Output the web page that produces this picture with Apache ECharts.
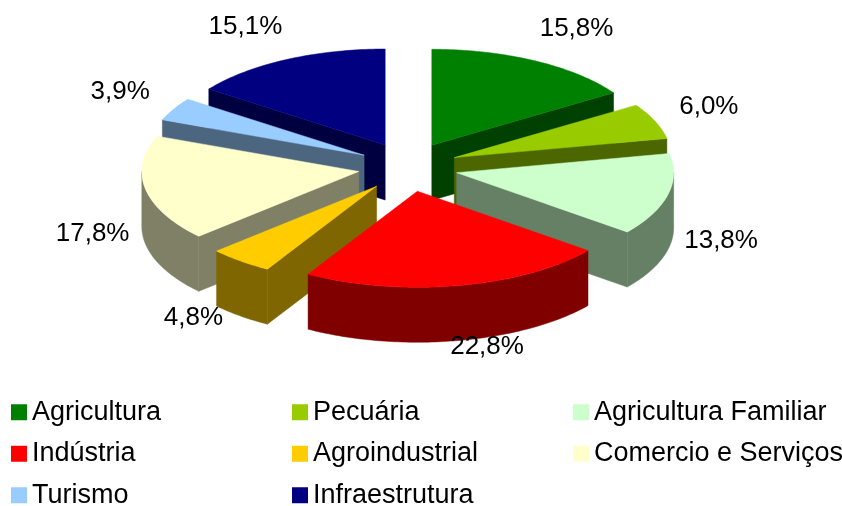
<!DOCTYPE html>
<html>
<head>
<meta charset="utf-8">
<script src="https://cdn.jsdelivr.net/npm/echarts@6/dist/echarts.min.js"></script>
<style>
  html, body { margin: 0; padding: 0; background: #fff; }
  #chart { width: 842px; height: 506px; }
</style>
</head>
<body>
<div id="chart"></div>
<script>
// slice data, clockwise from 12 o'clock
const categories = ['Agricultura', 'Pecuária', 'Agricultura Familiar', 'Indústria',
    'Agroindustrial', 'Comercio e Serviços', 'Turismo', 'Infraestrutura'];
const shares = [15.8, 6.0, 13.8, 22.8, 4.8, 17.8, 3.9, 15.1];
const topColors = ['#008000', '#99cc00', '#ccffcc', '#ff0000', '#ffcc00', '#ffffcc', '#99ccff', '#000080'];
const sideColors = ['#004000', '#4c6600', '#668066', '#800000', '#806600', '#808066', '#4c6680', '#000040'];

// 3d pie layout (pixels)
const CX = 408, CY = 167;
const RX = 217, RY = 96;
const DEPTH = 55;
const EXPLODE_X = 50, EXPLODE_Y = 24.7;
const FONT = "'Liberation Sans', Arial, sans-serif";

const total = shares.reduce((s, v) => s + v, 0);
const starts = [];
shares.reduce((acc, v) => { starts.push(acc / total * 360); return acc + v; }, 0);

const rad = d => d * Math.PI / 180;
function pt(x0, y0, deg) {
    return [x0 + RX * Math.sin(rad(deg)), y0 - RY * Math.cos(rad(deg))];
}
function arc(x0, y0, from, to) {
    const pts = [];
    for (let d = from; d < to; d += 1) pts.push(pt(x0, y0, d));
    pts.push(pt(x0, y0, to));
    return pts;
}
const down = p => [p[0], p[1] + DEPTH];

function renderSlice(params, api) {
    const i = params.seriesIndex;
    const t1 = starts[i];
    const t2 = t1 + api.value(0) / total * 360;
    const mid = (t1 + t2) / 2;
    const s = Math.sin(rad(mid)), c = Math.cos(rad(mid));
    const ex = CX + EXPLODE_X * s, ey = CY - EXPLODE_Y * c;
    const side = sideColors[i], top = topColors[i];
    const poly = (points, fill) => ({
        type: 'polygon', shape: { points: points },
        style: { fill: fill, stroke: fill, lineWidth: 0.5 }
    });
    const children = [];
    const C = [ex, ey];
    if (Math.sin(rad(t1)) < -1e-6) {
        const P = pt(ex, ey, t1);
        children.push(poly([C, P, down(P), down(C)], side));
    }
    if (Math.sin(rad(t2)) > 1e-6) {
        const P = pt(ex, ey, t2);
        children.push(poly([C, P, down(P), down(C)], side));
    }
    const lo = Math.max(t1, 90), hi = Math.min(t2, 270);
    if (lo < hi) {
        const rim = arc(ex, ey, lo, hi);
        children.push(poly(rim.concat(rim.map(down).reverse()), side));
    }
    children.push(poly([C].concat(arc(ex, ey, t1, t2)), top));

    // percentage label outside the slice
    const lx = ex + s * 267 + Math.sign(s) * 20 * Math.abs(c);
    const ly = c >= 0 ? ey - c * 133 : ey - c * 117 + 41;
    children.push({
        type: 'text',
        style: {
            text: api.value(0).toFixed(1).replace('.', ',') + '%',
            x: lx, y: ly, align: 'center', verticalAlign: 'middle',
            fontSize: 26, fontFamily: FONT, fill: '#000'
        }
    });
    return { type: 'group', children: children };
}

// back slices first
const depthRank = categories.map((_, i) => {
    const mid = starts[i] + shares[i] / total * 180;
    return Math.cos(rad(mid));
});
const order = depthRank.map((v, i) => i).sort((a, b) => depthRank[b] - depthRank[a]);

// legend: 3-column grid, one legend box per cell
const chart = echarts.init(document.getElementById('chart'), null, { renderer: 'canvas' });
chart.setOption({
    animation: false,
    backgroundColor: '#fff',
    legend: categories.map((name, k) => ({
        type: 'plain',
        left: 11 + (k % 3) * 281,
        top: 398.75 + Math.floor(k / 3) * 41.5,
        padding: 0,
        itemWidth: 16,
        itemHeight: 16,
        icon: 'rect',
        selectedMode: false,
        data: [name],
        textStyle: { fontSize: 27, color: '#000', fontFamily: FONT }
    })),
    series: categories.map((name, i) => ({
        name: name,
        type: 'custom',
        coordinateSystem: 'none',
        z: 2 + order.indexOf(i),
        itemStyle: { color: topColors[i] },
        renderItem: renderSlice,
        data: [[shares[i]]]
    }))
});
</script>
</body>
</html>
